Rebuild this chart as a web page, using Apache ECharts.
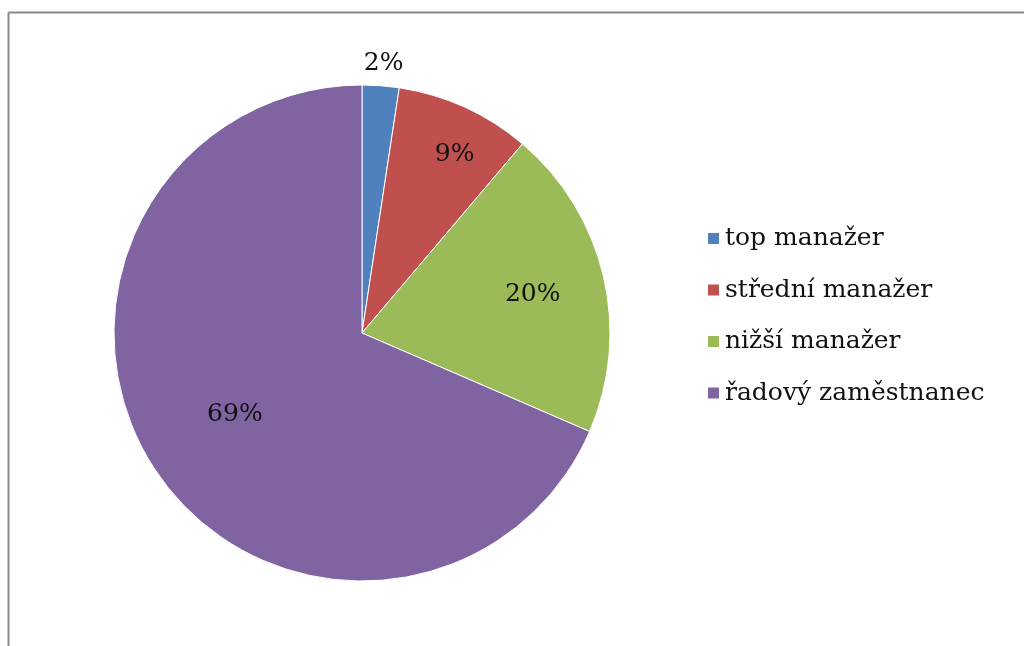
<!DOCTYPE html>
<html>
<head>
<meta charset="utf-8">
<script src="https://cdn.jsdelivr.net/npm/echarts@6/dist/echarts.min.js"></script>
<style>
html,body{margin:0;padding:0;background:#fff;}
#c{width:1024px;height:646px;}
</style>
</head>
<body>
<div id="c"></div>
<script>
const categories = ['top manažer', 'střední manažer', 'nižší manažer', 'řadový zaměstnanec'];
const values = [2.4, 8.8, 20.3, 68.5];
const colors = ['#4F81BD', '#C0504D', '#9BBB59', '#8064A2'];
const labelOffsets = [[12, -143], [40, -63], [47, -10], [-21, 12]];

const chart = echarts.init(document.getElementById('c'));
const font = '"DejaVu Serif", "Liberation Serif", serif';
chart.setOption({
  animation: false,
  backgroundColor: '#fff',
  graphic: [
    { type: 'line', shape: { x1: 8.5, y1: 12.5, x2: 1024, y2: 12.5 }, style: { stroke: '#8a8a8a', lineWidth: 2 } },
    { type: 'line', shape: { x1: 8.5, y1: 12.5, x2: 8.5, y2: 646 }, style: { stroke: '#8a8a8a', lineWidth: 2 } }
  ],
  legend: {
    orient: 'vertical',
    left: 706,
    top: 226,
    padding: 0,
    itemWidth: 13,
    itemHeight: 13,
    itemGap: 26.5,
    itemTextGap: 5,
    icon: 'rect',
    textStyle: { fontFamily: font, fontSize: 25, color: '#111' },
    data: categories
  },
  series: [{
    type: 'pie',
    center: [362, 333],
    radius: 248,
    startAngle: 90,
    clockwise: true,
    percentPrecision: 0,
    itemStyle: { borderColor: '#fff', borderWidth: 1 },
    label: {
      position: 'inside',
      formatter: '{d}%',
      fontFamily: font,
      fontSize: 25,
      color: '#111'
    },
    labelLine: { show: false },
    emphasis: { disabled: true },
    data: categories.map((n, i) => ({
      name: n,
      value: values[i],
      itemStyle: { color: colors[i] },
      label: { offset: labelOffsets[i] }
    }))
  }]
});
</script>
</body>
</html>
